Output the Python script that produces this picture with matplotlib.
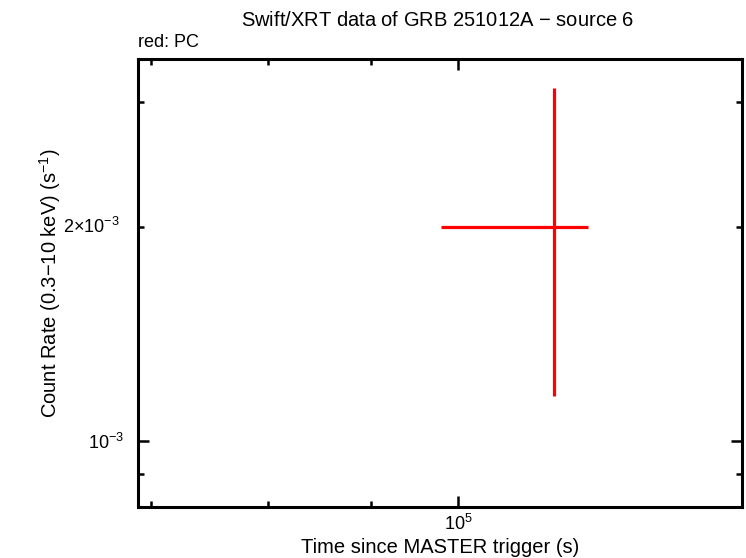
import matplotlib
matplotlib.use('Agg')
import matplotlib.pyplot as plt
from matplotlib.ticker import FixedLocator, NullFormatter

plt.rcParams['font.family'] = ['Liberation Sans', 'DejaVu Sans']
plt.rcParams['mathtext.fontset'] = 'custom'
plt.rcParams['mathtext.rm'] = 'Liberation Sans'

# data (PC mode)
t = [1.46e5]
t_lo = [9.35e4]
t_hi = [1.665e5]
rate = [2.0e-3]
rate_lo = [1.157e-3]
rate_hi = [3.14e-3]

x_minor = [3.0e4, 4.75e4, 7.1e4]
y_minor = [9e-4, 2e-3, 3e-3]

xerr = [[t[0] - t_lo[0]], [t_hi[0] - t[0]]]
yerr = [[rate[0] - rate_lo[0]], [rate_hi[0] - rate[0]]]

fig = plt.figure(figsize=(7.46, 5.58), dpi=100)
ax = fig.add_axes([0.185, 0.0914, 0.8096, 0.8029])

ax.errorbar(t, rate, xerr=xerr, yerr=yerr, fmt='none', ecolor='#ff0000',
            elinewidth=2.3, capsize=0)

ax.set_xscale('log')
ax.set_yscale('log')
ax.set_xlim(2.85e4, 3.046e5)
ax.set_ylim(8.08e-4, 3.445e-3)

# ticks
ax.xaxis.set_major_locator(FixedLocator([1e5]))
ax.xaxis.set_minor_locator(FixedLocator(x_minor))
ax.set_xticklabels(['$10^5$'])
ax.xaxis.set_minor_formatter(NullFormatter())

ax.yaxis.set_major_locator(FixedLocator([1e-3]))
ax.yaxis.set_minor_locator(FixedLocator(y_minor))
ax.set_yticklabels(['$10^{-3}$'])
ax.yaxis.set_minor_formatter(NullFormatter())
ax.text(-0.03, 2e-3, '2$\\times$10$^{-3}$', transform=ax.get_yaxis_transform(),
        ha='right', va='center', fontsize=13)

ax.tick_params(which='both', direction='in', top=True, right=True, width=1.8, labelsize=13)
ax.tick_params(which='major', length=8)
ax.tick_params(axis='y', which='major', pad=10)
ax.tick_params(axis='x', which='major', pad=5)
ax.tick_params(which='minor', length=4)
for s in ax.spines.values():
    s.set_linewidth(2.2)

ax.set_xlabel('Time since MASTER trigger (s)', fontsize=14.5, labelpad=2.5)
ax.set_ylabel('Count Rate (0.3$-$10 keV) (s$^{-1}$)', fontsize=14.5, labelpad=18)
fig.text(0.586, 0.963, 'Swift/XRT data of GRB 251012A $-$ source 6', ha='center', va='center', fontsize=14.5)
fig.text(0.185, 0.923, 'red: PC', ha='left', va='center', fontsize=13)

fig.savefig('out.png', dpi=100)
